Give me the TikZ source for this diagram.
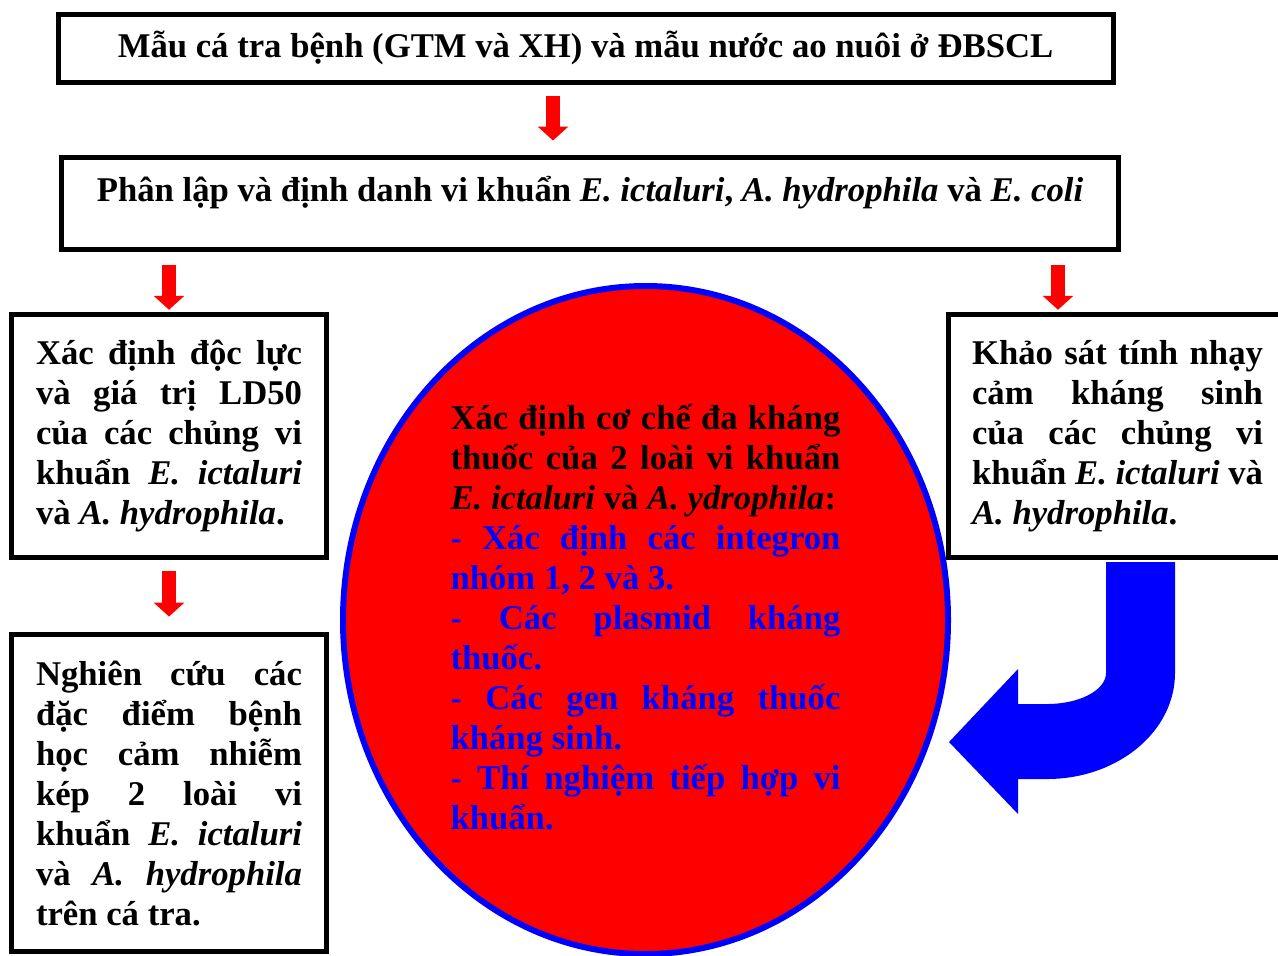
\documentclass[tikz,border=0pt]{standalone}
\usepackage{fontspec}
\setmainfont{Liberation Serif}
\usetikzlibrary{arrows.meta,positioning,shapes.geometric,calc}
\setlength{\parindent}{0pt}
\hyphenpenalty=10000
\exhyphenpenalty=10000

\begin{document}
\begin{tikzpicture}[
  x=0.5pt, y=-0.5pt,
  font=\fontsize{17.35}{20}\selectfont\bfseries,
  box/.style={draw, line width=2.5pt, inner sep=0pt, align=center},
  txtbox/.style={box, text width=#1, align=justify},
  oval/.style={draw=blue, fill=red, line width=3pt, ellipse, inner sep=0pt, text width=195pt, align=justify},
  redarr/.style={-{Triangle[width=15pt,length=7pt]}, line width=7pt, red}
]
\useasboundingbox (0,0) rectangle (1278,955);
\node[box, minimum width=527.5pt, minimum height=34pt] (mau) at (585.5,48)
  {Mẫu cá tra bệnh (GTM và XH) và mẫu nước ao nuôi ở ĐBSCL};
\node[box, minimum width=528.5pt, text height=21.75pt, text depth=24.25pt] (phan) at (590,203.5)
  {Phân lập và định danh vi khuẩn \textit{E. ictaluri}, \textit{A. hydrophila} và \textit{E. coli}};
\node[txtbox=133pt, minimum width=157.75pt, minimum height=121.75pt] (docluc) at (169,436)
  {Xác định độc lực\linebreak và giá trị LD50\linebreak của các chủng vi\linebreak
   khuẩn \textit{E. ictaluri}\linebreak và \textit{A. hydrophila}.};
\node[txtbox=133pt, minimum width=157.75pt, minimum height=158.75pt] (nghien) at (169,793)
  {Nghiên cứu các\linebreak đặc điểm bệnh\linebreak học cảm nhiễm\linebreak kép 2 loài vi\linebreak
   khuẩn \textit{E. ictaluri}\linebreak và \textit{A. hydrophila}\linebreak trên cá tra.};
\node[txtbox=145.5pt, minimum width=169.25pt, minimum height=121.75pt] (khaosat) at (1117.5,436)
  {Khảo sát tính nhạy\linebreak cảm kháng sinh\linebreak của các chủng vi\linebreak
   khuẩn \textit{E. ictaluri} và\linebreak \textit{A. hydrophila}.};
\node[oval, minimum width=302.5pt, minimum height=334pt] (coche) at (645.5,620)
  {Xác định cơ chế đa kháng\linebreak thuốc của 2 loài vi khuẩn\linebreak
   \textit{E. ictaluri} và \textit{A. ydrophila}:\par
   \color{blue}- Xác định các integron\linebreak nhóm 1, 2 và 3.\par
   - Các plasmid kháng\linebreak thuốc.\par
   - Các gen kháng thuốc\linebreak kháng sinh.\par
   - Thí nghiệm tiếp hợp vi\linebreak khuẩn.\vspace{3pt}};
\draw[redarr, shorten <=5.5pt, shorten >=7.25pt] ([xshift=-16.25pt]mau.south) -- ([xshift=-16.25pt]mau.south |- phan.north);
\draw[redarr, shorten <=6.25pt, shorten >=1pt] (phan.south -| docluc.north) -- (docluc.north);
\draw[redarr, shorten <=6.25pt, shorten >=1pt] ([xshift=-29.75pt]phan.south -| khaosat.north) -- ([xshift=-29.75pt]khaosat.north);
\draw[redarr, shorten <=5.6pt, shorten >=7.6pt] (docluc.south) -- (nghien.north);
\fill[blue] (1106,562) -- (1175,562) -- (1175,673)
  arc[start angle=0, end angle=90, x radius=128, y radius=106]
  -- (1018,779) -- (1018,814) -- (949,742) -- (1018,669) -- (1018,704) -- (1047,704)
  arc[start angle=90, end angle=0, x radius=59, y radius=31] -- cycle;
\end{tikzpicture}
\end{document}
